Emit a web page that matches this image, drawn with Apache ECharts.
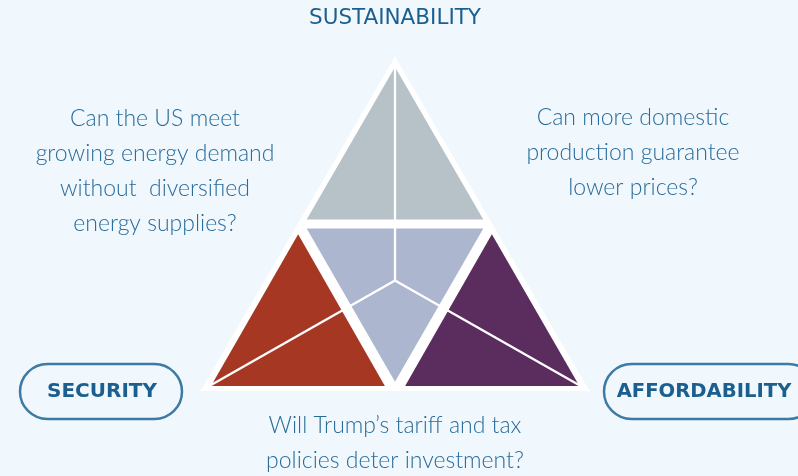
<!DOCTYPE html>
<html>
<head>
<meta charset="utf-8">
<script src="https://cdn.jsdelivr.net/npm/echarts@6/dist/echarts.min.js"></script>
<style>
html,body{margin:0;padding:0;background:#f0f7fd;}
#c{width:798px;height:476px;}
</style>
</head>
<body>
<div id="c"></div>
<script>
// Diagram geometry in triangle units (side = 100, base at y = 0)
const outerTriangle = [[0, 0], [50, 86], [100, 0]];
const pieceNames = ['Sustainability', 'Core', 'Security', 'Affordability'];
const pieceVertices = [
  [[50, 83.3], [27.3, 44.1], [72.7, 44.1]],
  [[27.3, 41.8], [72.7, 41.8], [50, 2.4]],
  [[25.1, 40.3], [2.7, 1.3], [47.4, 1.3]],
  [[74.9, 40.3], [52.6, 1.3], [97.4, 1.3]]
];
const centroid = [50, 28.4];
const medianEnds = [[50, 86], [0, 0], [100, 0]];

// Texts
const titleTop = 'SUSTAINABILITY';
const pillLabels = ['SECURITY', 'AFFORDABILITY'];
const questionLeft = ['Can the US meet', 'growing energy demand', 'without  diversified', 'energy supplies?'];
const questionRight = ['Can more domestic', 'production guarantee', 'lower prices?'];
const questionBottom = ['Will Trump\u2019s tariff and tax', 'policies deter investment?'];

const pieceColors = ['#b6c2c8', '#acb7cf', '#a63823', '#5b2d5f'];
const textColor = '#286c9a';
const headColor = '#1b5f8e';

const chart = echarts.init(document.getElementById('c'));

const polys = [outerTriangle].concat(pieceVertices);
const polyColors = ['#ffffff'].concat(pieceColors);

const option = {
  backgroundColor: '#f0f7fd',
  animation: false,
  grid: {left: 200.5, top: 56.5, width: 389, height: 334.5},
  xAxis: {type: 'value', min: 0, max: 100, show: false},
  yAxis: {type: 'value', min: 0, max: 86, show: false},
  series: [
    {
      type: 'custom',
      clip: false,
      data: polys.map((p, i) => [i, 0]),
      renderItem: function (params, api) {
        const i = params.dataIndex;
        return {
          type: 'polygon',
          shape: {points: polys[i].map(v => api.coord(v))},
          style: {fill: polyColors[i]}
        };
      }
    },
    {
      type: 'custom',
      clip: false,
      data: medianEnds.map((p, i) => [i, 0]),
      renderItem: function (params, api) {
        const a = api.coord(medianEnds[params.dataIndex]);
        const b = api.coord(centroid);
        return {
          type: 'line',
          shape: {x1: a[0], y1: a[1], x2: b[0], y2: b[1]},
          style: {stroke: '#ffffff', lineWidth: 2.3}
        };
      }
    }
  ],
  graphic: [
    {type: 'text', x: 395, y: 18, style: {text: titleTop, align: 'center', verticalAlign: 'middle', fontFamily: 'DejaVu Sans', fontSize: 21.5, fill: headColor}},
    {type: 'text', x: 155, y: 171, style: {text: questionLeft.join('\n'), align: 'center', verticalAlign: 'middle', lineHeight: 35, fontFamily: 'Lato', fontWeight: 300, fontSize: 23, fill: textColor}},
    {type: 'text', x: 633, y: 153, style: {text: questionRight.join('\n'), align: 'center', verticalAlign: 'middle', lineHeight: 35, fontFamily: 'Lato', fontWeight: 300, fontSize: 23, fill: textColor}},
    {type: 'text', x: 395, y: 443, style: {text: questionBottom.join('\n'), align: 'center', verticalAlign: 'middle', lineHeight: 35, fontFamily: 'Lato', fontWeight: 300, fontSize: 23, fill: textColor}},
    {type: 'rect', shape: {x: 20, y: 364, width: 162, height: 55, r: 27.5}, style: {fill: 'none', stroke: '#3d7aa4', lineWidth: 2.5}},
    {type: 'rect', shape: {x: 604, y: 364, width: 212, height: 55, r: 27.5}, style: {fill: 'none', stroke: '#3d7aa4', lineWidth: 2.5}},
    {type: 'text', x: 102, y: 392, style: {text: pillLabels[0], align: 'center', verticalAlign: 'middle', fontFamily: 'DejaVu Sans', fontWeight: 'bold', fontSize: 20, fill: headColor}},
    {type: 'text', x: 704, y: 392, style: {text: pillLabels[1], align: 'center', verticalAlign: 'middle', fontFamily: 'DejaVu Sans', fontWeight: 'bold', fontSize: 19.6, fill: headColor}}
  ]
};
chart.setOption(option);
</script>
</body>
</html>
